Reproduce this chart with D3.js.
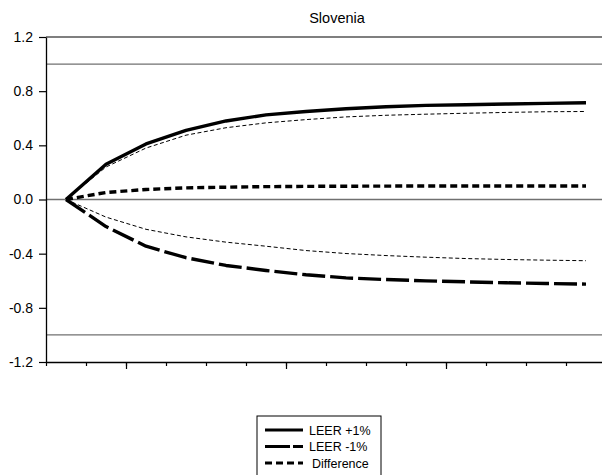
<!DOCTYPE html>
<html>
<head>
<meta charset="utf-8">
<script src="https://cdn.jsdelivr.net/npm/d3@7"></script>
<style>
  body { margin: 0; background: #fff; }
  svg { display: block; font-family: "Liberation Sans", Arial, sans-serif; }
</style>
</head>
<body>
<div id="chart"></div>
<script>
// periods of the impulse response
var periods = [1, 2, 3, 4, 5, 6, 7, 8, 9, 10, 11, 12, 13, 14];

// series values
var leerUp = [0, 0.26, 0.41, 0.51, 0.58, 0.625, 0.65, 0.67, 0.685, 0.695, 0.70, 0.705, 0.71, 0.715];
var leerUpThin = [0, 0.24, 0.38, 0.475, 0.53, 0.566, 0.59, 0.61, 0.622, 0.63, 0.637, 0.643, 0.648, 0.65];
var leerDown = [0, -0.2, -0.345, -0.43, -0.487, -0.524, -0.556, -0.579, -0.591, -0.601, -0.608, -0.615, -0.62, -0.625];
var leerDownThin = [0, -0.13, -0.22, -0.276, -0.315, -0.345, -0.377, -0.399, -0.414, -0.426, -0.436, -0.443, -0.448, -0.452];
var difference = [0, 0.052, 0.074, 0.086, 0.091, 0.095, 0.097, 0.098, 0.099, 0.1, 0.1, 0.1, 0.1, 0.1];

var yTicks = [-1.2, -0.8, -0.4, 0.0, 0.4, 0.8, 1.2];
var refLines = [1, 0, -1];
var legendLabels = ["LEER +1%", "LEER -1%", "Difference"];

var svgWidth = 602;
var svgHeight = 475;

var svg = d3.select("#chart")
  .append("svg")
  .attr("width", svgWidth)
  .attr("height", svgHeight);

// plot area
var plotLeft = 46, plotRight = 606, plotTop = 37, plotBottom = 362;

var x = d3.scaleLinear()
  .domain([0.5, periods.length + 0.5])
  .range([plotLeft, plotRight]);

var y = d3.scaleLinear()
  .domain([-1.2, 1.2])
  .range([plotBottom, plotTop]);

// title
svg.append("text")
  .attr("x", 337)
  .attr("y", 23)
  .attr("text-anchor", "middle")
  .attr("font-size", 14.5)
  .text("Slovenia");

// reference lines at 1, 0, -1
svg.selectAll(".ref")
  .data(refLines)
  .enter()
  .append("line")
  .attr("x1", plotLeft)
  .attr("x2", plotRight)
  .attr("y1", d => y(d))
  .attr("y2", d => y(d))
  .attr("stroke", "#707070")
  .attr("stroke-width", 1.4);

// top border
svg.append("line")
  .attr("x1", plotLeft)
  .attr("x2", plotRight)
  .attr("y1", plotTop)
  .attr("y2", plotTop)
  .attr("stroke", "#000")
  .attr("stroke-width", 1.2);

// x axis: minor ticks at period boundaries, major every 4
var boundaries = d3.range(0, periods.length + 1).map(i => i + 0.5);
var xMinor = svg.append("g")
  .attr("transform", `translate(0, ${plotBottom})`)
  .call(d3.axisBottom(x).tickValues(boundaries).tickFormat("").tickSize(4).tickSizeOuter(0));
var xMajor = svg.append("g")
  .attr("transform", `translate(0, ${plotBottom})`)
  .call(d3.axisBottom(x).tickValues(boundaries.filter((d, i) => i % 4 === 2)).tickFormat("").tickSize(7).tickSizeOuter(0));
xMajor.select(".domain").remove();

// y axis (plain hyphen for negatives, like the original)
var yFormat = d => d.toFixed(1);
var yAxis = svg.append("g")
  .attr("transform", `translate(${plotLeft}, 0)`)
  .call(d3.axisLeft(y).tickValues(yTicks).tickFormat(yFormat).tickSize(7).tickSizeOuter(0).tickPadding(6));

svg.selectAll(".tick line").attr("stroke", "#000").attr("stroke-width", 1.2);
svg.selectAll(".domain").attr("stroke", "#000").attr("stroke-width", 1.3);
yAxis.selectAll("text")
  .attr("font-size", 14)
  .attr("font-family", "Liberation Sans, Arial, sans-serif")
  .attr("fill", "#000");

// lines
var line = d3.line()
  .x((d, i) => x(periods[i]))
  .y(d => y(d));

var series = [
  { values: leerUpThin, width: 1, dash: "4,2.5" },
  { values: leerDownThin, width: 1, dash: "4,2.5" },
  { values: difference, width: 3.4, dash: "7,4" },
  { values: leerDown, width: 3.4, dash: "23,5" },
  { values: leerUp, width: 3.4, dash: null }
];

svg.selectAll(".series")
  .data(series)
  .enter()
  .append("path")
  .attr("d", d => line(d.values))
  .attr("fill", "none")
  .attr("stroke", "#000")
  .attr("stroke-width", d => d.width)
  .attr("stroke-dasharray", d => d.dash)
  .attr("stroke-linejoin", "round");

// legend
var legend = svg.append("g").attr("transform", "translate(257, 416)");
legend.append("rect")
  .attr("x", 0)
  .attr("y", 0)
  .attr("width", 124)
  .attr("height", 80)
  .attr("fill", "#fff")
  .attr("stroke", "#000")
  .attr("stroke-width", 1);

var legendDash = [null, "25,3,10,0", "7,4"];
legendLabels.forEach(function(label, i) {
  var ly = 14 + i * 16.5;
  legend.append("line")
    .attr("x1", 8)
    .attr("x2", 46)
    .attr("y1", ly)
    .attr("y2", ly)
    .attr("stroke", "#000")
    .attr("stroke-width", 3)
    .attr("stroke-dasharray", legendDash[i]);
  legend.append("text")
    .attr("x", i === 2 ? 55 : 52)
    .attr("y", ly + 4.5)
    .attr("font-size", 12.5)
    .text(label);
});
</script>
</body>
</html>
